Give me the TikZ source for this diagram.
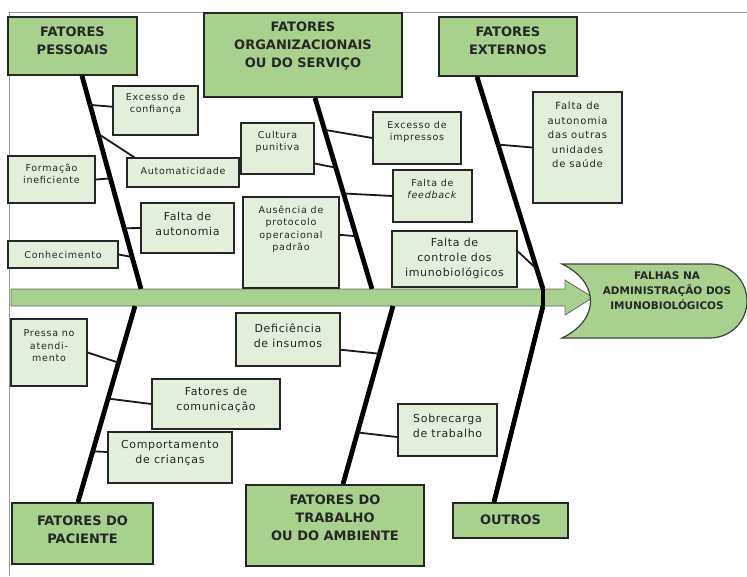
\documentclass[tikz,border=0pt]{standalone}
\usepackage{fontspec}
\setmainfont{DejaVu Sans}
\newfontfamily\smallf[LetterSpace=8]{DejaVu Sans}
\newfontfamily\largef[LetterSpace=6]{DejaVu Sans}
\usetikzlibrary{calc}
\definecolor{hdrgreen}{HTML}{A9D18E}
\definecolor{subgreen}{HTML}{E2EFDA}
\begin{document}
\begin{tikzpicture}[x=1pt,y=-1pt,
  hdr/.style={draw=black!85, line width=1.8pt, fill=hdrgreen, inner sep=0pt},
  sub/.style={draw=black!85, line width=1.3pt, fill=subgreen, inner sep=0pt},
  bone/.style={line width=4.8pt, black},
  twig/.style={line width=1.8pt, black!90},
  htxt/.style={font=\fontsize{13}{18}\selectfont\bfseries, align=center, text=black!85},
  stxt/.style={font=\smallf\fontsize{9.5}{12.5}\selectfont, align=center, text=black!85},
  mtxt/.style={font=\smallf\fontsize{10}{14.5}\selectfont, align=center, text=black!85},
  ltxt/.style={font=\largef\fontsize{11}{15}\selectfont, align=center, text=black!85},
  headtxt/.style={font=\fontsize{10.5}{15}\selectfont\bfseries, align=center, text=black!85}]
\useasboundingbox (0,0) rectangle (747,576);
\fill[white] (0,0) rectangle (747,576);

% frame
\draw[gray!80, line width=1.5pt] (747,12.5) -- (9.5,12.5) -- (9.5,576);

% spine arrow
\draw[fill=hdrgreen, draw=black!60, line width=0.8pt]
  (11,289) -- (565,289) -- (565,280) -- (593,297.5) -- (565,315) -- (565,306) -- (11,306) -- cycle;

% head
\draw[fill=hdrgreen, draw=black!75, line width=1.2pt]
  (562,264) -- (710,264) arc[start angle=-90, end angle=90, radius=37] -- (562,338)
  .. controls (600,320) and (600,282) .. (562,264) -- cycle;
\node[headtxt] (head) at (667,291) {FALHAS NA\\ADMINISTRAÇÃO DOS\\IMUNOBIOLÓGICOS};

% spine coordinates
\coordinate (s1) at (141,289);
\coordinate (s2) at (372,289);
\coordinate (s3) at (543,289);
\coordinate (s4) at (135,306);
\coordinate (s5) at (393,306);
\coordinate (s6) at (543,306);

% header boxes
\node[hdr, minimum width=129, minimum height=58, label={[htxt,yshift=5pt]center:{FATORES\\PESSOAIS}}] (hp) at (72.5,46) {};
\node[hdr, minimum width=198, minimum height=84, label={[htxt,yshift=9pt]center:{FATORES\\ORGANIZACIONAIS\\OU DO SERVIÇO}}] (ho) at (303,55) {};
\node[hdr, minimum width=138, minimum height=59, label={[htxt,yshift=5.5pt]center:{FATORES\\EXTERNOS}}] (he) at (508,46.5) {};
\node[hdr, minimum width=141, minimum height=61, label={[htxt,yshift=3.5pt]center:{FATORES DO\\PACIENTE}}] (hpac) at (82.5,533.5) {};
\node[hdr, minimum width=178, minimum height=81, label={[htxt,yshift=7.5pt]center:{FATORES DO\\TRABALHO\\OU DO AMBIENTE}}] (ht) at (335,525.5) {};
\node[hdr, minimum width=115, minimum height=35, label={[htxt,yshift=1pt]center:{OUTROS}}] (hout) at (510.5,520.5) {};

% bones
\draw[bone] (hp.south -| 82,0) coordinate (b1) -- (s1);
\draw[bone] (ho.south -| 315,0) coordinate (b2) -- (s2);
\draw[bone] (he.south -| 477,0) coordinate (b3) -- (s3);
\draw[bone] (hpac.north -| 78,0) coordinate (b4) -- (s4);
\draw[bone] (ht.north -| 343,0) coordinate (b5) -- (s5);
\draw[bone] (hout.north -| 494,0) coordinate (b6) -- (s6);
\draw[bone] (s3) -- (s6);

% sub-cause boxes (positions)
\path
  (155.5,110.5) coordinate (p1)
  (183,172.5) coordinate (p2)
  (51.5,179.5) coordinate (p3)
  (187.5,228) coordinate (p4)
  (63,254.5) coordinate (p5)
  (277.5,148.5) coordinate (p6)
  (417,138) coordinate (p7)
  (432.5,196) coordinate (p8)
  (291,242.5) coordinate (p9)
  (454.5,259) coordinate (p10)
  (577.5,147.5) coordinate (p11)
  (49,352.5) coordinate (p12)
  (216,404) coordinate (p13)
  (170,457.5) coordinate (p14)
  (288,339.5) coordinate (p15)
  (447.5,430) coordinate (p16);

\node[sub, minimum width=85, minimum height=49, label={[stxt,yshift=6.5pt]center:{Excesso de\\confiança}}] (c1) at (p1) {};
\node[sub, minimum width=112, minimum height=29, label={[stxt,yshift=1.5pt]center:{Automaticidade}}] (c2) at (p2) {};
\node[sub, minimum width=87, minimum height=47, label={[stxt,yshift=5.5pt]center:{Formação\\ineficiente}}] (c3) at (p3) {};
\node[sub, minimum width=93, minimum height=50, label={[ltxt,yshift=4pt]center:{Falta de\\autonomia}}] (c4) at (p4) {};
\node[sub, minimum width=110, minimum height=27, label={[stxt]center:{Conhecimento}}] (c5) at (p5) {};
\node[sub, minimum width=73, minimum height=51, label={[stxt,yshift=6.5pt]center:{Cultura\\punitiva}}] (c6) at (p6) {};
\node[sub, minimum width=88, minimum height=52, label={[stxt,yshift=6pt]center:{Excesso de\\impressos}}] (c7) at (p7) {};
\node[sub, minimum width=79, minimum height=52, label={[stxt,yshift=7pt]center:{Falta de\\\textit{feedback}}}] (c8) at (p8) {};
\node[sub, minimum width=96, minimum height=91, label={[stxt,yshift=13.5pt]center:{Ausência de\\protocolo\\operacional\\padrão}}] (c9) at (p9) {};
\node[sub, minimum width=125, minimum height=56, label={[ltxt,yshift=1pt]center:{Falta de\\controle dos\\imunobiológicos}}] (c10) at (p10) {};
\node[sub, minimum width=89, minimum height=111, label={[mtxt,yshift=12.5pt]center:{Falta de\\autonomia\\das outras\\unidades\\de saúde}}] (c11) at (p11) {};
\node[sub, minimum width=76, minimum height=67, label={[stxt,yshift=6.5pt]center:{Pressa no\\atendi-\\mento}}] (c12) at (p12) {};
\node[sub, minimum width=128, minimum height=50, label={[ltxt,yshift=4pt]center:{Fatores de\\comunicação}}] (c13) at (p13) {};
\node[sub, minimum width=124, minimum height=51, label={[ltxt,yshift=4.5pt]center:{Comportamento\\de crianças}}] (c14) at (p14) {};
\node[sub, minimum width=104, minimum height=53, label={[ltxt,yshift=3.5pt]center:{Deficiência\\de insumos}}] (c15) at (p15) {};
\node[sub, minimum width=99, minimum height=52, label={[ltxt,yshift=4pt]center:{Sobrecarga\\de trabalho}}] (c16) at (p16) {};

% twigs
\draw[twig] ($(b1)!0.136!(s1)$) -- (c1.175);
\draw[twig] ($(b1)!0.271!(s1)$) -- ($(c2.north west)+(8,0)$);
\draw[twig] ($(b1)!0.481!(s1)$) -- (c3.east);
\draw[twig] ($(b1)!0.715!(s1)$) -- (c4.west);
\draw[twig] ($(b1)!0.85!(s1)$) -- (c5.east);
\draw[twig] ($(b2)!0.365!(s2)$) -- (c6.-22);
\draw[twig] ($(b2)!0.167!(s2)$) -- (c7.west);
\draw[twig] ($(b2)!0.5!(s2)$) -- (c8.west);
\draw[twig] ($(b2)!0.724!(s2)$) -- (c9.9);
\draw[twig] ($(b3)!0.319!(s3)$) -- (c11.west);
\draw[twig] ($(b3)!0.906!(s3)$) -- (c10.7);
\draw[twig] ($(b4)!0.711!(s4)$) -- (c12.east);
\draw[twig] ($(b4)!0.528!(s4)$) -- (c13.west);
\draw[twig] ($(b4)!0.259!(s4)$) -- (c14.175);
\draw[twig] ($(b5)!0.732!(s5)$) -- (c15.-11);
\draw[twig] ($(b5)!0.29!(s5)$) -- (c16.188);
\end{tikzpicture}
\end{document}
